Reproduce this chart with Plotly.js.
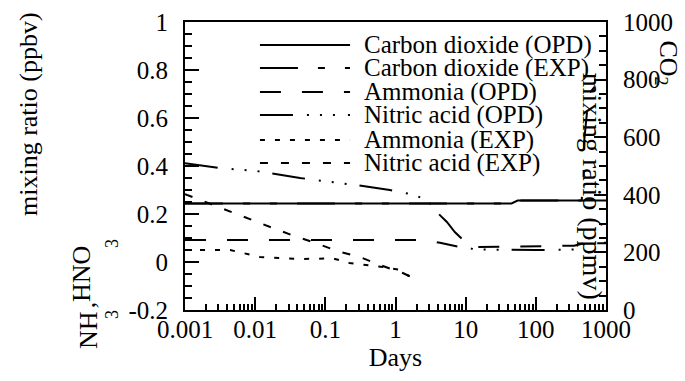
<!DOCTYPE html>
<html>
<head>
<meta charset="utf-8">
<script src="https://cdn.plot.ly/plotly-3.0.1.min.js"></script>
<style>html,body{margin:0;padding:0;background:#fff;}#chart{width:685px;height:381px;}</style>
</head>
<body>
<div id="chart"></div>
<script>
// ---- data ----
const co2OpdDays   = [0.001, 45, 55, 1000];
const co2OpdPpmv   = [370, 370, 380, 380];

const co2ExpDays   = [0.001, 45, 55, 450, 460, 480, 490, 540, 590, 720, 880];
const co2ExpPpmv   = [370, 370, 380, 380, 410, 470, 590, 695, 755, 780, 795];

const nh3OpdDays   = [0.001, 2.6, 4.3, 8, 14, 100, 350, 500, 1000];
const nh3OpdPpbv   = [0.092, 0.092, 0.08, 0.063, 0.062, 0.065, 0.068, 0.079, 0.08];

const hno3OpdDays  = [0.001, 0.003, 0.0106, 0.0435, 0.28, 0.83, 1.9, 2.9, 4.0, 5.4, 7.0, 9.2, 10.7, 13, 100, 400, 500, 1000];
const hno3OpdPpbv  = [0.412, 0.392, 0.379, 0.35, 0.32, 0.30, 0.279, 0.254, 0.204, 0.167, 0.125, 0.092, 0.0625, 0.052, 0.05, 0.052, 0.078, 0.078];

const nh3ExpDays   = [0.001, 0.0044, 0.0067, 0.0117, 0.0435, 0.128, 0.22, 0.66, 1.16, 1.44, 1.6];
const nh3ExpPpbv   = [0.05, 0.05, 0.0375, 0.021, 0.0125, 0.015, -0.004, -0.021, -0.033, -0.054, -0.06];

const hno3ExpDays  = [0.001, 0.00227, 0.00452, 0.009, 0.0185, 0.038, 0.073, 0.162, 0.311, 0.6, 1.27, 2.1];
const hno3ExpPpbv  = [0.283, 0.242, 0.208, 0.175, 0.14, 0.106, 0.079, 0.042, 0.021, -0.0125, -0.046, -0.075];

const seriesNames = ['Carbon dioxide (OPD)', 'Carbon dioxide (EXP)', 'Ammonia (OPD)',
                     'Nitric acid (OPD)', 'Ammonia (EXP)', 'Nitric acid (EXP)'];

const xTickVals  = [0.001, 0.01, 0.1, 1, 10, 100, 1000];
const xTickText  = ['0.001', '0.01', '0.1', '1', '10', '100', '1000'];
const yTickVals  = [-0.2, 0, 0.2, 0.4, 0.6, 0.8, 1];
const yTickText  = ['-0.2', '0', '0.2', '0.4', '0.6', '0.8', '1'];
const y2TickVals = [0, 200, 400, 600, 800, 1000];
const y2TickText = ['0', '200', '400', '600', '800', '1000'];

// ---- styles ----
const dashes = ['solid', '38px,20px,7px,20px,7px,20px', '21px,21px',
                '33px,14px,2px,11px,2px,11px,2px,13px', '5px,10px', '8px,13px'];
const FONT = 'Liberation Serif';

const seriesData = [
  [co2OpdDays, co2OpdPpmv, 'y2'],
  [co2ExpDays, co2ExpPpmv, 'y2'],
  [nh3OpdDays, nh3OpdPpbv, 'y'],
  [hno3OpdDays, hno3OpdPpbv, 'y'],
  [nh3ExpDays, nh3ExpPpbv, 'y'],
  [hno3ExpDays, hno3ExpPpbv, 'y']
];

const traces = seriesData.map((s, i) => ({
  x: s[0], y: s[1], yaxis: s[2], name: seriesNames[i],
  type: 'scatter', mode: 'lines', showlegend: false,
  line: {color: 'black', width: 2, dash: dashes[i]}
}));

// manual legend (long sample lines as in the reference)
const legY = [0.920, 0.840, 0.757, 0.677, 0.590, 0.510];
const shapes = seriesNames.map((n, i) => ({
  type: 'line', xref: 'paper', yref: 'paper', x0: 0.178, x1: 0.392, y0: legY[i], y1: legY[i],
  line: {color: 'black', width: 2, dash: dashes[i]}
}));
const annotations = seriesNames.map((n, i) => ({
  text: n, xref: 'paper', yref: 'paper', x: 0.4204, y: legY[i], xanchor: 'left', yanchor: 'middle',
  showarrow: false, font: {family: FONT, size: 25, color: 'black'}
}));

function ann(text, x, y, angle, size) {
  return {text: text, xref: 'paper', yref: 'paper', x: x, y: y, xanchor: 'center', yanchor: 'middle',
          textangle: angle, showarrow: false, font: {family: FONT, size: size, color: 'black'}};
}
annotations.push(ann('mixing ratio (ppbv)', -0.3705, 0.6806, -90, 26));
annotations.push(ann('NH', -0.228, -0.0694, -90, 26));
annotations.push(ann('HNO', -0.247, 0.125, -90, 26));
annotations.push(ann(',', -0.235, 0.017, -90, 26));
annotations.push(ann('3', -0.1734, -0.0139, -90, 18));
annotations.push(ann('3', -0.1734, 0.2326, -90, 18));
annotations.push(ann('CO<sub>2</sub>', 1.146, 0.858, 90, 26));
annotations.push(ann('mixing ratio (ppmv)', 0.968, 0.43, 90, 28));

const axisCommon = {
  showline: true, linewidth: 2, linecolor: 'black', showgrid: false, zeroline: false,
  ticks: 'inside', tickwidth: 2, tickcolor: 'black',
  tickfont: {family: FONT, size: 25, color: 'black'}
};

const layout = {
  width: 685, height: 381,
  margin: {l: 185, r: 79, t: 22, b: 71},
  paper_bgcolor: 'white', plot_bgcolor: 'white',
  font: {family: FONT, color: 'black'},
  showlegend: false,
  xaxis: Object.assign({}, axisCommon, {
    type: 'log', range: [-3, 3], mirror: true, ticklen: 13,
    tickmode: 'array', tickvals: xTickVals, ticktext: xTickText,
    minor: {ticks: 'inside', ticklen: 6, tickwidth: 2, tickcolor: 'black', dtick: 'D1', showgrid: false},
    title: {text: 'Days', font: {family: FONT, size: 26, color: 'black'}, standoff: 4},
    ticklabelstandoff: -4,
    automargin: false
  }),
  yaxis: Object.assign({}, axisCommon, {
    range: [-0.2, 1], ticklen: 14, tickmode: 'array', tickvals: yTickVals, ticktext: yTickText,
    minor: {ticks: 'inside', ticklen: 7, tickwidth: 2, tickcolor: 'black', dtick: 0.05, showgrid: false},
    ticklabelstandoff: 10, automargin: false
  }),
  yaxis2: Object.assign({}, axisCommon, {
    overlaying: 'y', side: 'right', range: [0, 1000], ticklen: 12,
    tickmode: 'array', tickvals: y2TickVals, ticktext: y2TickText,
    minor: {ticks: 'inside', ticklen: 7, tickwidth: 2, tickcolor: 'black', dtick: 50, showgrid: false},
    ticklabelstandoff: 10, automargin: false
  }),
  shapes: shapes,
  annotations: annotations
};

Plotly.newPlot('chart', traces, layout, {displayModeBar: false, staticPlot: true});
</script>
</body>
</html>
